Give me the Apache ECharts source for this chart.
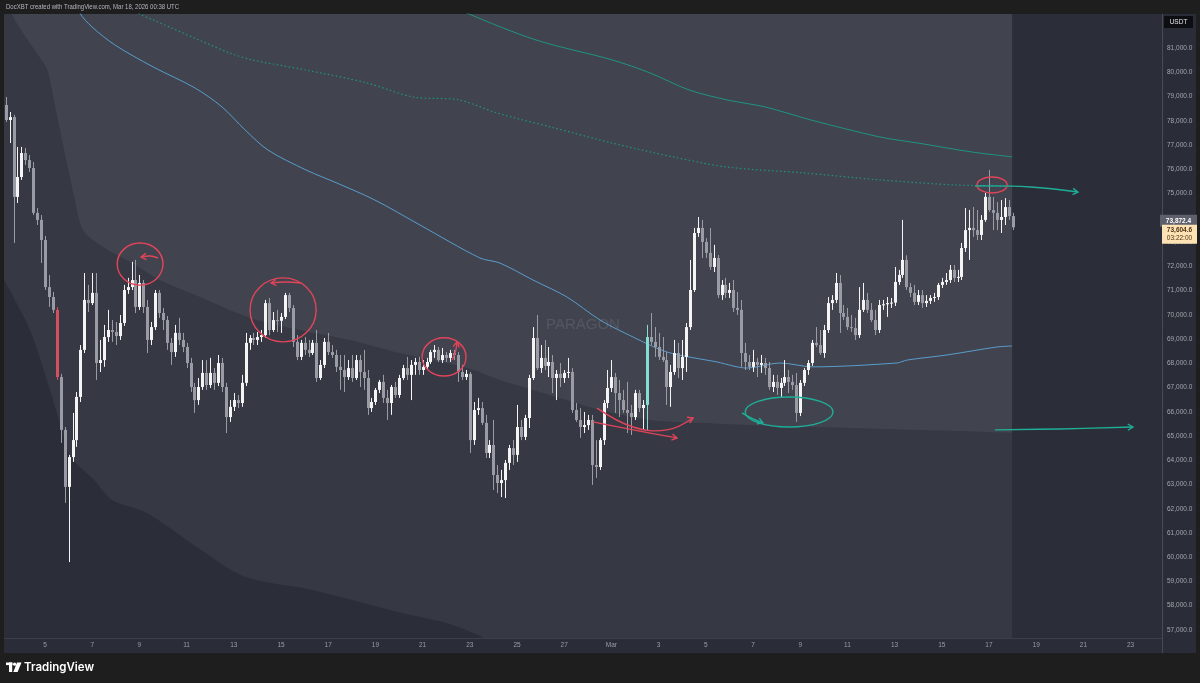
<!DOCTYPE html>
<html><head><meta charset="utf-8">
<script src="https://cdn.jsdelivr.net/npm/echarts@6/dist/echarts.min.js"></script>
<style>html,body{margin:0;padding:0;background:#1e1e1e;}#c{width:1200px;height:683px;}</style>
</head><body><div id="c"></div>
<script>
// ---------------- DATA ----------------
// 4h candles BTC/USDT, first candle Feb 3 08:00 UTC; rows = [open, close, low, high]
const firstCandleUTC = Date.UTC(2026, 1, 3, 8);
const candleHours = 4;
const candles = [
[78650,78030,77950,78980],[78030,78150,77080,78360],[78150,74860,72960,78240],[74860,75680,74610,76920],
[75680,76670,75560,76920],[76670,76380,76180,76880],[76380,76050,75890,76590],[76050,74200,74110,76300],
[74200,73910,73700,74400],[73910,73080,72130,74110],[73080,71140,71020,73250],[71140,70730,70320,71640],
[70730,70200,70070,70940],[70200,67430,67310,70320],[67430,65250,64710,67560],[65250,62900,62240,65370],
[62900,64130,59800,64220],[64130,64830,63930,65950],[64830,66610,64550,66810],[66610,68550,66400,68750],
[68550,70610,68420,71720],[70610,70480,70110,71230],[70480,70900,70400,71720],[70900,68010,67310,71720],
[68010,68130,67640,68960],[68130,69080,67850,69580],[69080,69370,68880,70200],[69370,69290,68880,69780],
[69290,69120,68750,69700],[69120,69660,68960,69990],[69660,71020,69540,71230],[71020,71140,70860,71520],
[71140,71430,71020,72180],[71430,70320,70070,72260],[70320,71310,70200,71640],[71310,70320,70070,71430],
[70320,68960,68420,70610],[68960,69490,68750,69700],[69490,70900,69370,71020],[70900,70070,69870,71020],
[70070,69780,69370,70280],[69780,68840,68550,69950],[68840,68460,67930,69040],[68460,69250,68260,69580],
[69250,68960,68750,69870],[68960,68670,68460,69250],[68670,68010,67800,68840],[68010,67020,66810,68220],
[67020,66480,65950,67190],[66480,67020,66280,67390],[67020,67600,66900,68130],[67600,67100,66900,68130],
[67100,67600,66980,68220],[67600,67190,66900,67800],[67190,68010,67060,68340],[68010,67020,66810,68220],
[67020,65780,65120,67190],[65780,66200,65580,66480],[66200,66480,66030,66770],[66480,66360,66150,66690],
[66360,67190,66200,67520],[67190,68840,67060,69250],[68840,69040,68550,69160],[69040,68960,68750,69250],
[68960,69080,68750,69290],[69080,69160,68880,69370],[69160,70480,69040,70610],[70480,69370,69160,70690],
[69370,69780,69290,70110],[69780,69750,69290,70200],[69750,69910,69250,70070],[69910,70810,69820,70900],
[70810,70280,70110,70900],[70280,68880,68670,70400],[68880,68260,68130,69160],[68260,68840,68130,68960],
[68840,68550,68340,69080],[68550,68420,68260,68960],[68420,68840,68340,68960],[68840,67390,67230,69370],
[67390,67930,67310,68130],[67930,68880,67800,69040],[68880,68460,68340,69250],[68460,68340,68220,68750],
[68340,67850,67640,68550],[67850,67720,66900,68340],[67720,67430,66810,68340],[67430,67800,67310,68130],
[67800,67390,67230,68340],[67390,68130,67310,68340],[68130,67640,67020,68340],[67640,67390,66900,68550],
[67390,66150,65870,67720],[66150,66400,65990,66570],[66400,66900,66280,66980],[66900,67230,66770,67310],
[67230,66570,66360,67520],[66570,66360,65660,66900],[66360,67020,65870,67100],[67020,66690,66570,67230],
[66690,67390,66570,67520],[67390,67800,67310,67930],[67800,67520,67310,68260],[67520,67930,66480,68130],
[67930,68050,67520,68220],[68050,67720,67520,68260],[67720,67850,67520,68130],[67850,68050,67720,68220],
[68050,68460,67970,68550],[68460,68550,68220,68750],[68550,68130,68050,68670],[68130,68340,68010,68630],
[68340,68220,68050,68460],[68220,68420,68050,68550],[68420,68340,68130,68550],[68340,67640,67230,68460],
[67640,67430,67310,67930],[67430,67560,67310,67720],[67560,64830,64300,67640],[64830,66070,64630,66400],
[66070,66150,65870,66570],[66150,65540,65450,66400],[65540,64300,64090,65870],[64300,64630,64090,64830],
[64630,63390,62770,65660],[63390,63060,62650,63800],[63060,63180,62480,63600],[63180,63890,62440,64010],
[63890,64500,63600,64630],[64500,64220,63800,64830],[64220,65370,63930,66280],[65370,64960,64830,65660],
[64960,65740,64830,65870],[65740,67390,65330,67520],[67390,69040,67310,69490],[69040,67800,67720,69990],
[67800,68220,67600,68750],[68220,67890,67720,68960],[67890,68050,67430,68670],[68050,67390,66770,68340],
[67390,67560,66480,67720],[67560,67390,67020,68010],[67390,67600,67190,67720],[67600,67640,67390,68220],
[67640,66070,65950,67800],[66070,65660,65580,66360],[65660,65370,64920,66150],[65370,65450,65120,65990],
[65450,65660,65250,65870],[65660,63800,62980,65870],[63800,63720,63270,64830],[63720,64830,63600,64920],
[64830,66360,64630,66480],[66360,66980,66150,67720],[66980,67430,66810,68130],[67430,66770,65950,67600],
[66770,66480,65780,67310],[66480,66070,65950,66900],[66070,65950,65120,67230],[65950,65780,65040,66280],
[65780,66770,65660,66900],[66770,66150,65990,66900],[66150,66280,65250,66480],[66280,69080,65250,69580],
[69080,68880,68750,70070],[68880,68670,68260,69490],[68670,68260,68130,69250],[68260,68130,68050,69080],
[68130,67020,66280,68460],[67020,67640,66200,67930],[67640,68420,67520,68960],[68420,67800,67390,68840],
[67800,68260,67310,68960],[68260,69490,67640,69660],[69490,71020,69370,72260],[71020,73370,70940,73580],
[73370,73580,73210,74030],[73580,73000,72340,73910],[73000,72550,72340,73160],[72550,71970,71850,73580],
[71970,72340,71760,72880],[72340,70810,70690,72460],[70810,71230,70610,71430],[71230,70900,70690,71520],
[70900,71020,70690,71310],[71020,70280,70110,71430],[70280,70200,69990,70940],[70200,68420,67850,70610],
[68420,68050,67720,68840],[68050,67850,67720,68340],[67850,68050,67640,68550],[68050,67930,67430,68220],
[67930,68010,67600,68340],[68010,67800,67520,68220],[67800,67020,66900,68050],[67020,67230,66810,67520],
[67230,66980,66690,67520],[66980,67190,66570,67390],[67190,67430,67060,68130],[67430,67230,66770,67720],
[67230,67100,66900,67520],[67100,65950,65580,67600],[65950,67190,65820,67310],[67190,67720,67060,67800],
[67720,68010,67520,68130],[68010,68840,67890,68960],[68840,68750,68670,69490],[68750,68420,68340,69370],
[68420,69370,68220,69580],[69370,70480,69250,70730],[70480,70610,70200,70810],[70610,71310,70480,71720],
[71310,70070,69250,71640],[70070,69910,69780,70400],[69910,69490,69370,70280],[69490,69450,69290,69990],
[69450,69160,68960,69870],[69160,70200,69040,71140],[70200,70610,70110,71310],[70610,70200,70070,70900],
[70200,69780,69700,70480],[69780,69370,69160,70200],[69370,70400,69250,70610],[70400,70430,70200,70610],
[70430,70480,69910,70730],[70480,70500,70280,70690],[70500,71350,70360,71970],[71350,71640,71230,71850],
[71640,72260,71520,73910],[72260,71140,71020,72450],[71140,70900,70730,71310],[70900,70530,70400,71230],
[70530,70810,70400,71020],[70810,70480,70280,71020],[70480,70570,70320,70810],[70570,70690,70440,70810],
[70690,70730,70530,70900],[70730,71230,70610,71310],[71230,71350,71100,71520],[71350,71430,71230,71720],
[71430,71850,71310,72050],[71850,71520,71350,72050],[71520,71560,71350,71850],[71560,72750,71430,72960],
[72750,73490,72590,74400],[73490,73580,72260,74320],[73580,73490,73210,74440],[73490,73290,73080,74320],
[73290,73910,73080,74110],[73910,74860,73830,75020],[74860,74320,74240,75970],[74320,74200,73490,74860],
[74200,73910,73490,74650],[73910,74030,73370,74730],[74030,74440,73700,74810],[74440,74070,73910,74730],
[74070,73605,73490,74200]
];
const highlightedCandles = {13: 'red', 163: 'cyan'};

// x positions below are "day of February" (Mar 1 = 29)
const vwapLine = [[6.27,83190],[6.48,82440],[6.99,81870],[7.97,81120],[9.58,80220],[11.36,79350],[12.5,78570],
 [13.48,77620],[14.45,76790],[16.06,75970],[17.37,75430],[18.98,74730],[20.89,73700],[23.43,72340],[24.28,72130],
 [25.68,71430],[27.12,70730],[28.52,69780],[29.92,69080],[31.36,68460],[33.48,68050],[34.75,67800],[36.14,68010],
 [37.54,67850],[41.1,68010],[41.53,68130],[43.22,68340],[45.34,68670],[45.98,68710]];
const upperBand1 = [[8.6,82770],[8.94,82440],[9.58,82160],[11.53,81330],[12.84,80790],[13.77,80510],[16.06,80090],
 [18.64,79560],[20.59,78980],[22.54,78860],[24.15,78320],[26.44,77740],[29.03,77080],[31.61,76510],[33.9,76090],
 [37.12,75850],[40.38,75560],[43.6,75350],[45.98,75310]];
const upperBand2 = [[22.37,82770],[22.88,82440],[25.81,81330],[29.03,80510],[30.64,79970],[32.29,79270],
 [33.9,78860],[35.51,78570],[37.46,78030],[40.38,77330],[41.99,77080],[44.28,76710],[45.98,76510]];
const lowerBand1 = [[3.52,82980],[3.6,82400],[4.07,81620],[5.04,80220],[5.21,79680],[5.55,78030],[5.93,76260],
 [6.27,74730],[6.61,73490],[7.33,72880],[8.6,72180],[9.87,71430],[11.57,70730],[13.69,69870],[15.81,69370],
 [17.92,68960],[20.04,68420],[22.88,67800],[24.28,67310],[25.68,66900],[27.12,66480],[28.52,66070],
 [30.64,65660],[32.75,65540],[34.87,65450],[39.11,65330],[43.35,65210],[45.98,65120]];
const lowerBand2 = [[3.263,71430],[4.36,69370],[5.21,66900],[5.72,65250],[6.1,64130],[7.08,63180],[7.84,62360],
 [9.32,61820],[11.61,60300],[13.48,59190],[16.31,58650],[20.13,57700],[21.99,57290],[23.52,56710],
 [24.28,56170],[28.52,54100],[45.98,54100]];

const priceTicks = [57000,58000,59000,60000,61000,62000,63000,64000,65000,66000,67000,68000,69000,
 70000,71000,72000,73000,74000,75000,76000,77000,78000,79000,80000,81000];
const dateTicks = [5,7,9,11,13,15,17,19,21,23,25,27,29,31,33,35,37,39,41,43,45,47,49,51];
const dateTickLabels = ['5','7','9','11','13','15','17','19','21','23','25','27','Mar','3','5','7','9','11','13','15','17','19','21','23'];
const priceTags = [73872.4, 73604.6];
const priceTagTexts = ['73,872.4', '73,604.6'];
const countdownText = '03:22:00';

// hand-drawn annotations (center day, center price, radius in days, radius in USDT)
const redEllipses = [[9.03,72090,0.97,870],[15.09,70200,1.4,1320],[21.91,68260,0.93,790],[45.13,75350,0.64,330]];
const tealEllipses = [[36.53,65990,1.86,620]];
const redStrokes = [
 [[9.79,72340],[9.45,72420],[9.07,72380]],
 [[15.85,71310],[15.2,71350],[14.58,71310]],
 [[22.25,68130],[22.4,68500],[22.46,68880]],
 [[28.39,66150],[29.92,65370],[31.36,65250],[32.46,65740]],
 [[28.22,65580],[29.92,65250],[31.78,64920]]
];
const tealStrokes = [
 [[44.41,75310],[46.74,75270],[48.77,75060]],
 [[45.25,65250],[48.01,65290],[51.1,65370]],
 [[34.53,65950],[35.0,65700],[35.42,65540]]
];

// ---------------- CHART ----------------
const dayZeroUTC = Date.UTC(2026, 0, 31);
const X_MIN = 3.263, X_MAX = 52.331;
const candleSeriesData = candles.map((r, i) => {
  const t = firstCandleUTC + i * candleHours * 3600e3;
  const d = (t - dayZeroUTC) / 864e5;
  const flag = highlightedCandles[i] === 'red' ? 1 : (highlightedCandles[i] === 'cyan' ? 2 : 0);
  return [d, r[0], r[1], r[2], r[3], flag];
});

const UP = '#f4f4f5', DOWN = '#999ca4', RED = '#d4505e', CYAN = '#86dcd1';
const ANN_RED = '#e2445a', ANN_TEAL = '#1fae98';

function arrowHead(p1, p2, len) {
  const a = Math.atan2(p2[1] - p1[1], p2[0] - p1[0]);
  const s = 0.55;
  return [[p2[0] - len * Math.cos(a - s), p2[1] - len * Math.sin(a - s)], p2,
          [p2[0] - len * Math.cos(a + s), p2[1] - len * Math.sin(a + s)]];
}

const chart = echarts.init(document.getElementById('c'), null, {renderer: 'canvas'});
const option = {
  backgroundColor: '#1e1e1e',
  animation: false,
  grid: {left: 4, right: 38, top: 14, bottom: 45, show: true, backgroundColor: '#2b2e38', borderWidth: 0},
  xAxis: {
    type: 'value', min: X_MIN, max: X_MAX, z: 10,
    axisLine: {show: false}, axisTick: {show: false}, splitLine: {show: false},
    axisLabel: {
      customValues: dateTicks,
      formatter: v => { const i = dateTicks.indexOf(Math.round(v)); return i >= 0 ? dateTickLabels[i] : ''; },
      color: '#9a9da6', fontSize: 6.5, margin: 4, fontFamily: 'Liberation Sans'
    }
  },
  yAxis: {
    type: 'value', position: 'right', min: 56668, max: 82402, z: 10,
    axisLine: {show: false}, axisTick: {show: false}, splitLine: {show: false},
    axisLabel: {
      customValues: priceTicks,
      formatter: v => v.toLocaleString('en-US', {minimumFractionDigits: 1, maximumFractionDigits: 1}),
      color: '#a3a6ae', fontSize: 6.5, margin: 5, fontFamily: 'Liberation Sans'
    }
  },
  graphic: {elements: [
    {type: 'rect', z: 0, shape: {x: 4, y: 638, width: 1192, height: 15}, style: {fill: '#2a2d37'}},
    {type: 'line', z: 0, shape: {x1: 4, y1: 638.5, x2: 1196, y2: 638.5}, style: {stroke: '#3d404a', lineWidth: 1}},
    {type: 'rect', z: 0, shape: {x: 1162, y: 14, width: 34, height: 639}, style: {fill: '#2a2d37'}},
    {type: 'line', z: 0, shape: {x1: 1162.5, y1: 14, x2: 1162.5, y2: 653}, style: {stroke: '#484b55', lineWidth: 1}},
    {type: 'rect', z: 20, shape: {x: 1164, y: 16, width: 29, height: 12}, style: {fill: '#0d0e12'}},
    {type: 'text', z: 21, x: 1178.5, y: 22, style: {text: 'USDT', fill: '#e6e6e6', fontSize: 6.5, fontFamily: 'Liberation Sans', align: 'center', verticalAlign: 'middle'}},
    {type: 'text', z: 3, x: 583, y: 325, style: {text: 'PARAGON', fill: 'rgba(255,255,255,0.10)', fontSize: 15, fontFamily: 'Liberation Sans', align: 'center', verticalAlign: 'middle'}},
    {type: 'text', z: 20, x: 6, y: 6.5, scaleX: 0.8, style: {text: 'DocXBT created with TradingView.com, Mar 18, 2026 00:38 UTC', fill: '#b4b7bf', fontSize: 7.5, fontFamily: 'Liberation Sans', verticalAlign: 'middle'}},
    {type: 'rect', z: 20, shape: {x: 6, y: 662.5, width: 6.5, height: 2.6}, style: {fill: '#ffffff'}},
    {type: 'rect', z: 20, shape: {x: 9, y: 662.5, width: 3.2, height: 9.5}, style: {fill: '#ffffff'}},
    {type: 'circle', z: 20, shape: {cx: 14.6, cy: 664.2, r: 1.6}, style: {fill: '#ffffff'}},
    {type: 'polygon', z: 20, shape: {points: [[17, 662.5], [21.5, 662.5], [17.6, 672], [13.3, 672]]}, style: {fill: '#ffffff'}},
    {type: 'text', z: 20, x: 24, y: 667.5, style: {text: 'TradingView', fill: '#ffffff', fontSize: 11.5, fontWeight: 600, fontFamily: 'Inter', verticalAlign: 'middle'}}
  ]},
  series: [
    {type: 'line', name: 'lowerBand2', data: lowerBand2, showSymbol: false, silent: true, z: 1, smooth: 0.3,
     lineStyle: {width: 0, opacity: 0}, areaStyle: {color: '#363944', opacity: 1, origin: 'end'}},
    {type: 'line', name: 'lowerBand1', data: lowerBand1, showSymbol: false, silent: true, z: 1, smooth: 0.3,
     lineStyle: {width: 0, opacity: 0}, areaStyle: {color: '#41444e', opacity: 1, origin: 'end'}},
    {type: 'line', name: 'vwap', data: vwapLine, showSymbol: false, silent: true, z: 2, smooth: 0.3,
     lineStyle: {color: '#5a9ccc', width: 1}},
    {type: 'line', name: 'upper1', data: upperBand1, showSymbol: false, silent: true, z: 2, smooth: 0.3,
     lineStyle: {color: '#1f9384', width: 1.2, type: [1.5, 2.5]}},
    {type: 'line', name: 'upper2', data: upperBand2, showSymbol: false, silent: true, z: 2, smooth: 0.3,
     lineStyle: {color: '#1f9384', width: 1}},
    {type: 'custom', name: 'candles', data: candleSeriesData, z: 5, silent: true,
     encode: {x: 0, y: [1, 2, 3, 4]},
     renderItem: (params, api) => {
       const d = api.value(0), o = api.value(1), c = api.value(2), l = api.value(3), h = api.value(4), f = api.value(5);
       const po = api.coord([d, o]), pc = api.coord([d, c]), pl = api.coord([d, l]), ph = api.coord([d, h]);
       const col = f === 1 ? RED : f === 2 ? CYAN : (c >= o ? UP : DOWN);
       const cx = Math.round(po[0]);
       const top = Math.min(po[1], pc[1]), bot = Math.max(po[1], pc[1]);
       return {type: 'group', children: [
         {type: 'line', shape: {x1: cx + 0.5, y1: ph[1], x2: cx + 0.5, y2: pl[1]}, style: {stroke: col, lineWidth: 1}},
         {type: 'rect', shape: {x: cx - 1, y: top, width: 3, height: Math.max(bot - top, 1)}, style: {fill: col}}
       ]};
     }},
    {type: 'custom', name: 'annotations', data: [[0]], z: 8, silent: true, clip: false,
     renderItem: (params, api) => {
       const kids = [];
       const ell = (e, col) => {
         const c = api.coord([e[0], e[1]]);
         const sz = api.size([e[2], e[3]]);
         kids.push({type: 'ellipse', shape: {cx: c[0], cy: c[1], rx: sz[0], ry: sz[1]}, style: {stroke: col, fill: 'none', lineWidth: 1.4}});
       };
       const stroke = (s, col) => {
         const pts = s.map(p => api.coord(p));
         kids.push({type: 'polyline', shape: {points: pts, smooth: 0.4}, style: {stroke: col, fill: 'none', lineWidth: 1.4}});
         kids.push({type: 'polyline', shape: {points: arrowHead(pts[pts.length - 2], pts[pts.length - 1], 6)}, style: {stroke: col, fill: 'none', lineWidth: 1.4}});
       };
       redEllipses.forEach(e => ell(e, ANN_RED));
       tealEllipses.forEach(e => ell(e, ANN_TEAL));
       redStrokes.forEach(s => stroke(s, ANN_RED));
       tealStrokes.forEach(s => stroke(s, ANN_TEAL));
       return {type: 'group', children: kids};
     }},
    {type: 'custom', name: 'priceTags', data: priceTags.map((v, i) => [X_MAX, v, i]), z: 30, silent: true, clip: false,
     renderItem: (params, api) => {
       const i = api.value(2);
       const p = api.coord([api.value(0), api.value(1)]);
       if (i === 0) {
         return {type: 'group', children: [
           {type: 'rect', shape: {x: p[0] - 2, y: p[1] - 6, width: 37, height: 12}, style: {fill: '#5d606b'}},
           {type: 'text', x: p[0] + 16.5, y: p[1], style: {text: priceTagTexts[0], fill: '#ffffff', fontSize: 6.5, fontWeight: 'bold', fontFamily: 'Liberation Sans', align: 'center', verticalAlign: 'middle'}}
         ]};
       }
       return {type: 'group', children: [
         {type: 'rect', shape: {x: p[0], y: p[1] - 2.5, width: 35, height: 19}, style: {fill: '#fde2b5'}},
         {type: 'text', x: p[0] + 17.5, y: p[1] + 2.5, style: {text: priceTagTexts[1], fill: '#4f3514', fontSize: 6.5, fontWeight: 'bold', fontFamily: 'Liberation Sans', align: 'center', verticalAlign: 'middle'}},
         {type: 'text', x: p[0] + 17.5, y: p[1] + 10.5, style: {text: countdownText, fill: '#4f3514', fontSize: 6.5, fontFamily: 'Liberation Sans', align: 'center', verticalAlign: 'middle'}}
       ]};
     }}
  ]
};
chart.setOption(option);
</script></body></html>
